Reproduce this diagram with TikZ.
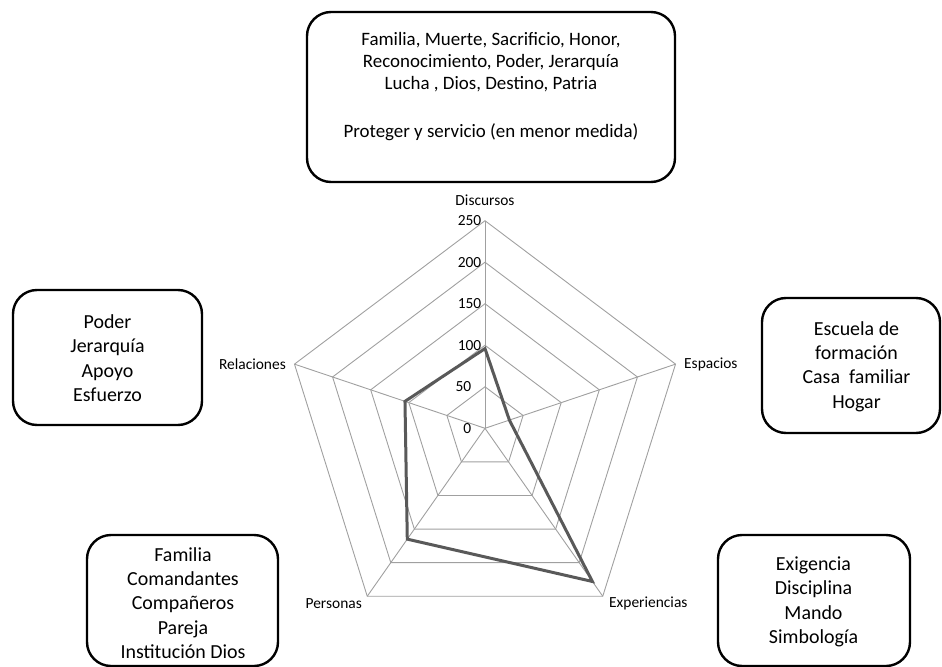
\documentclass[tikz,border=0pt]{standalone}
\usepackage{fontspec}
\setmainfont{Carlito}
\definecolor{gridgray}{HTML}{A0A0A0}
\definecolor{seriesgray}{HTML}{595959}
\begin{document}
\begin{tikzpicture}[x=1bp,y=-1bp,
  card/.style={draw=black, line width=2.4bp, rounded corners=24bp, inner sep=0pt},
  cardtext/.style={align=center, inner sep=0pt, font=\fontsize{20}{24.5}\selectfont},
  axislabel/.style={inner sep=0pt, font=\fontsize{15.5}{18}\selectfont},
  ticklabel/.style={inner sep=0pt, anchor=east, font=\fontsize{15.5}{18}\selectfont},
  gridline/.style={draw=gridgray, line width=0.9bp},
  series/.style={draw=seriesgray, line width=3bp, line join=miter}]
\useasboundingbox (0,0) rectangle (942,667);

% radar geometry: centre, pixels per unit, horizontal squeeze
\def\cx{485}
\def\cy{428.3}
\def\rr{0.8304}
\def\sx{0.965}

\coordinate (c) at (\cx,\cy);

% grid rings and spokes
\foreach \v in {50,100,...,250} {
  \foreach \k in {0,...,4} {
    \coordinate (g\k-\v) at ({\cx+\sx*\rr*\v*cos(90-72*\k)},{\cy-\rr*\v*sin(90-72*\k)});
  }
  \draw[gridline] (g0-\v) -- (g1-\v) -- (g2-\v) -- (g3-\v) -- (g4-\v) -- cycle;
}
\foreach \k in {0,...,4} \draw[gridline] (c) -- (g\k-250);

% data series
\foreach \k/\val in {0/96,1/32,2/228,3/165,4/105} {
  \coordinate (s\k) at ({\cx+\sx*\rr*\val*cos(90-72*\k)},{\cy-\rr*\val*sin(90-72*\k)});
}
\draw[series] (s0) -- (s1) -- (s2) -- (s3) -- (s4) -- cycle;

% scale labels
\foreach \v in {100,150,200,250} \node[ticklabel] (t\v) at (481.5,{\cy-\rr*\v}) {\v};
\foreach \v in {0,50} \node[ticklabel] (t\v) at (471.5,{\cy-\rr*\v}) {\v};

% axis labels
\node[axislabel] (lDisc) at (485,200) {Discursos};
\node[axislabel, anchor=west] (lEsp) at (684,364) {Espacios};
\node[axislabel, anchor=east] (lRel) at (286,364) {Relaciones};
\node[axislabel, anchor=east] (lPer) at (362,603.5) {Personas};
\node[axislabel, anchor=west] (lExp) at (609,603.5) {Experiencias};

% boxes
\node[card, minimum width=368bp, minimum height=170bp] (bTop) at (491,97) {};
\node[cardtext, font=\fontsize{19}{22}\selectfont] (tTop) at (491,86.7)
  {Familia, Muerte, Sacrificio, Honor,\\Reconocimiento, Poder, Jerarquía\\Lucha , Dios, Destino, Patria\\[26bp]Proteger y servicio (en menor medida)};

\node[card, minimum width=189bp, minimum height=135bp] (bRel) at (107.5,357.5) {};
\node[cardtext] (tRel) at (107.5,358.3) {Poder\\Jerarquía\\Apoyo\\Esfuerzo};

\node[card, minimum width=178bp, minimum height=135bp] (bEsp) at (851,365.5) {};
\node[cardtext] (tEsp) at (856.5,366.5) {Escuela de\\formación\\Casa\ \ familiar\\Hogar};

\node[card, minimum width=191bp, minimum height=131bp] (bPer) at (182.5,600.5) {};
\node[cardtext] (tPer) at (183,603) {Familia\\Comandantes\\Compañeros\\Pareja\\Institución Dios};

\node[card, minimum width=192bp, minimum height=131bp] (bExp) at (814,600.5) {};
\node[cardtext] (tExp) at (813.5,602) {Exigencia\\Disciplina\\Mando\\Simbología};
\end{tikzpicture}
\end{document}
